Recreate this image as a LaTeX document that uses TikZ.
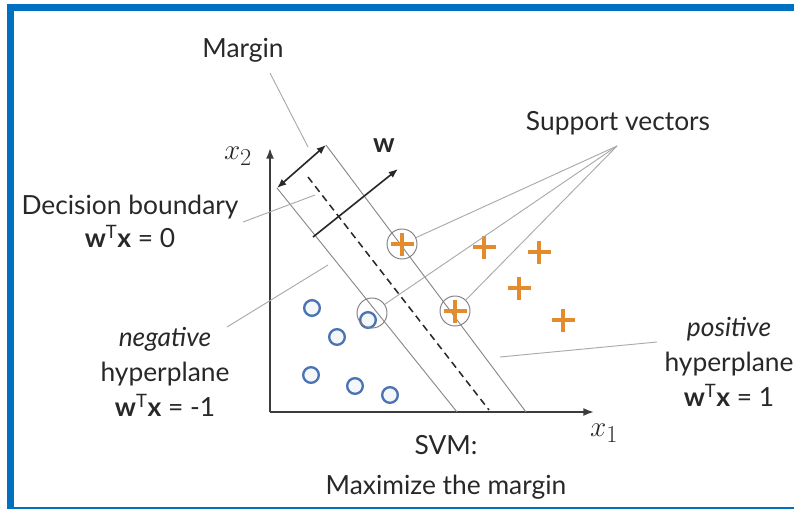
\documentclass[tikz,border=0pt]{standalone}
\usepackage{fontspec}
\setmainfont{Lato}
\usetikzlibrary{arrows.meta,positioning,calc}
\definecolor{frameblue}{RGB}{0,112,192}
\definecolor{txtgray}{RGB}{40,40,40}
\definecolor{axisgray}{RGB}{60,60,60}
\definecolor{ptrgray}{RGB}{170,170,170}
\definecolor{plusorange}{RGB}{228,140,45}
\definecolor{circblue}{RGB}{75,115,180}
\definecolor{svgray}{RGB}{125,125,130}
\tikzset{
  lbl/.style={text=txtgray,align=center,inner sep=0pt,
              font=\fontsize{22.5}{28}\selectfont},
  axis/.style={-{Latex[length=3.2mm,width=2.4mm]},line width=1.6pt,draw=axisgray},
  hplane/.style={draw=ptrgray!80!black,line width=0.8pt},
  ptr/.style={draw=ptrgray,line width=0.8pt},
  marg/.style={{Latex[length=2.8mm,width=2.2mm]}-{Latex[length=2.8mm,width=2.2mm]},
               line width=1.4pt,draw=txtgray},
  warr/.style={-{Latex[length=2.8mm,width=2.2mm]},line width=1.4pt,draw=txtgray},
  negpt/.style={circle,draw=circblue,line width=2pt,fill=circblue!6,
                minimum size=0.47cm,inner sep=0pt},
  svring/.style={circle,draw=svgray,line width=0.8pt,minimum size=0.9cm,inner sep=0pt},
  pmark/.pic={\draw[plusorange,line width=2.8pt] (-11.5,0)--(11.5,0) (0,-11.5)--(0,11.5);},
}

\begin{document}
\begin{tikzpicture}[x=0.03cm,y=-0.03cm]
  \useasboundingbox (0,0) rectangle (794,508);
  % frame
  \draw[frameblue,line width=6pt] (10.5,7.5) rectangle (830,511);

  % axes
  \coordinate (O) at (270,412);
  \coordinate (ytip) at (270,148);
  \coordinate (xtip) at (594,412);
  \draw[axis] (O) -- (ytip);
  \draw[axis] (O) -- (xtip);
  \node[text=txtgray,font=\fontsize{28}{28}\selectfont] (xtwo) at (238,156) {$x_2$};
  \node[text=txtgray,font=\fontsize{28}{28}\selectfont] (xone) at (604,433) {$x_1$};

  % hyperplanes
  \coordinate (negtop) at (277,188);
  \coordinate (negbot) at (457,412);
  \coordinate (dbtop)  at (308,177);
  \coordinate (dbbot)  at (489,410);
  \coordinate (postop) at (326,145);
  \coordinate (posbot) at (526,412);
  \draw[hplane] (negtop) -- (negbot);
  \draw[hplane] (postop) -- (posbot);
  \draw[hplane,draw=txtgray,line width=1.3pt,dash pattern=on 6pt off 4pt] (dbtop) -- (dbbot);

  % margin and w
  \draw[marg] (negtop) -- (postop);
  \coordinate (wstart) at (313,237);
  \coordinate (wend)   at (398,169);
  \draw[warr] (wstart) -- (wend);
  \node[lbl,font=\fontsize{23}{23}\selectfont\bfseries] (wlbl) at (384,146) {w};

  % negative samples
  \foreach \p [count=\i] in {(312,308),(337,337),(311,375),(355,386),(390,395),(368,320)}
    \node[negpt] (n\i) at \p {};
  % positive samples
  \foreach \p [count=\i] in {(402,244),(455,311),(484,247),(539,252),(519,288),(563,320)}
    \path \p coordinate (p\i) pic {pmark};

  % support vectors
  \node[svring] (sv1) at (p1) {};
  \node[svring] (sv2) at (p2) {};
  \node[svring] (sv3) at (372,313) {};

  % labels
  \node[lbl] (margin) at (243,50) {Margin};
  \node[lbl] (svlbl) at (618,123) {Support vectors};
  \node[lbl] (db) at (130,221)
       {Decision boundary\\\textbf{w}\textsuperscript{T}\textbf{x} = 0};
  \node[lbl,font=\fontsize{22.5}{29.8}\selectfont] (neglbl) at (165,372)
       {\textit{negative}\\hyperplane\\\textbf{w}\textsuperscript{T}\textbf{x} = -1};
  \node[lbl,font=\fontsize{22.5}{29.8}\selectfont] (poslbl) at (729,362)
       {\textit{positive}\\hyperplane\\\textbf{w}\textsuperscript{T}\textbf{x} = 1};
  \node[lbl,font=\fontsize{22.5}{34}\selectfont] (svm) at (446,467)
       {SVM:\\Maximize the margin};

  % pointers
  \coordinate (svtip) at (617,146);
  \draw[ptr] (svtip) -- (sv1);
  \draw[ptr] (svtip) -- (sv2);
  \draw[ptr] (svtip) -- (sv3);
  \coordinate (mtail) at (270,73);
  \coordinate (mhead) at (308,147);
  \draw[ptr] (mtail) -- (mhead);
  \coordinate (dbtail) at (243,222);
  \coordinate (dbhead) at (315,195);
  \draw[ptr] (dbtail) -- (dbhead);
  \coordinate (negtail) at (227,327);
  \coordinate (neghead) at (328,265);
  \draw[ptr] (negtail) -- (neghead);
  \coordinate (postail) at (657,342);
  \coordinate (poshead) at (500,357);
  \draw[ptr] (postail) -- (poshead);
\end{tikzpicture}
\end{document}
